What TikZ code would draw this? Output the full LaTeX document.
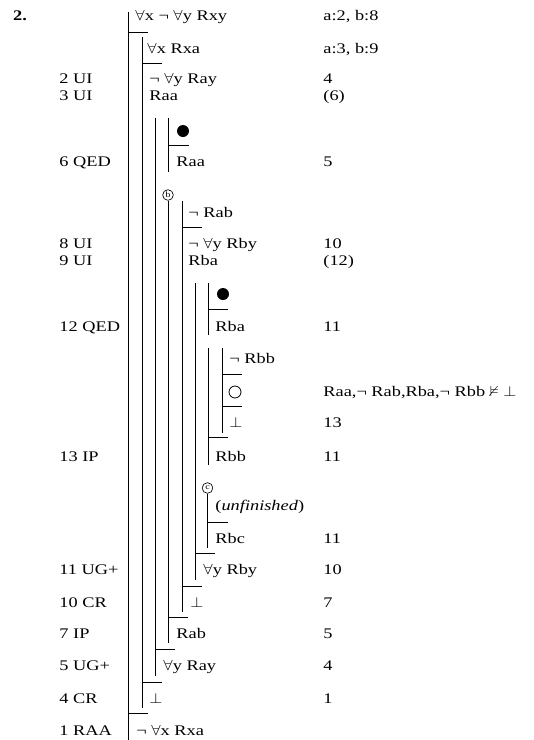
\documentclass[tikz,border=0pt]{standalone}
\usepackage{amsmath,amssymb}
\usepackage{fontspec}
\setmainfont{Liberation Serif}[FakeStretch=1.25]
\usepackage{tikz}

\newcommand{\fa}{\scalebox{1.15}[1]{$\forall$}}
\newcommand{\fls}{\scalebox{1.15}[1]{$\bot$}}

\tikzset{
  fml/.style={anchor=base west,inner sep=0pt},
  rul/.style={anchor=base west,inner sep=0pt},
  casebox/.style={circle,draw,line width=0.5pt,minimum size=8pt,inner sep=0pt,font=\fontsize{6}{6}\selectfont},
}

\begin{document}
\begin{tikzpicture}[x=0.75pt,y=-0.75pt,line width=0.7pt,
    every node/.append style={font=\fontsize{11}{13}\selectfont}]
                \useasboundingbox (0,0) rectangle (534,740);

                \node[fml] (num) at (12.7,20) {\textbf{2.}};

                % Linien
                \foreach \x/\ya/\yb in {128/12/740, 142/37/708, 155/118/676, 168.5/118/172,
                    182/201/612, 195/283/580, 208/283/335, 208/348/465, 222/348/433}
                    \draw (\x,\ya) -- (\x,\yb);
                \foreach \x/\y in {128/32, 142/63, 168.5/145, 182/227, 208/309, 222/374, 222/406,
                    208/437, 208/522, 195/553, 182/586, 168/617, 155/649, 142/682, 128/713}
                    \draw (\x,\y) -- ++(20,0);

                % Fall b, Fall c
                \node[casebox] (cb) at (168,195) {b};
                \draw (cb.south) -- (168,643);
                \node[casebox] (cc) at (207.5,488) {c};
                \draw (cc.south) -- (207.5,548);

                \node[circle,fill,minimum size=9pt,inner sep=0pt] (dota) at (183,131) {}; %Raa
                \node[circle,fill,minimum size=9pt,inner sep=0pt] (dotb) at (223,294) {}; %Rba
                \node[circle,draw,line width=0.6pt,minimum size=9pt,inner sep=0pt] (open) at (235,392) {};

                % Formeln
                \node[fml] (f1) at (135,20) {\fa x ¬ \fa y Rxy};
                \node[fml] (f2) at (147,53) {\fa x Rxa};
                \node[fml] (f3) at (149,83) {¬ \fa y Ray};
                \node[fml] (f4) at (149,100) {Raa};
                \node[fml] (f5) at (176,166) {Raa};
                \node[fml] (f6) at (188,217) {¬ Rab};
                \node[fml] (f7) at (188,248) {¬ \fa y Rby};
                \node[fml] (f8) at (188,265) {Rba};
                \node[fml] (f9) at (215,331) {Rba};
                \node[fml] (f10) at (229,363) {¬ Rbb};
                \node[fml] (f11) at (229,427) {\fls};
                \node[fml] (f12) at (215,461) {Rbb};
                \node[fml] (f13) at (215,510) {(\textit{unfinished})};
                \node[fml] (f14) at (215,543) {Rbc};
                \node[fml] (f15) at (203,574) {\fa y Rby};
                \node[fml] (f16) at (190,607) {\fls};
                \node[fml] (f17) at (176,638) {Rab};
                \node[fml] (f18) at (163,670) {\fa y Ray};
                \node[fml] (f19) at (149,703) {\fls};
                \node[fml] (f20) at (136,735) {¬ \fa x Rxa};

                % Regeln links
                \foreach \y/\t in {83/2 UI, 100/3 UI, 166/6 QED, 248/8 UI, 265/9 UI, 331/12 QED,
                    461/13 IP, 574/11 UG+, 607/10 CR, 638/7 IP, 670/5 UG+, 703/4 CR, 735/1 RAA}
                    \node[rul] (r\y) at (59,\y) {\t};

                % Verweise rechts
                \node[rul] (ref1) at (323,20) {a:2, b:8};
                \node[rul] (ref2) at (323,53) {a:3, b:9};
                \foreach \y/\t in {83/4, 100/(6), 166/5, 248/10, 265/(12), 331/11, 427/13,
                    461/11, 543/11, 574/10, 607/7, 638/5, 670/4, 703/1}
                    \node[rul] (ref\y) at (323,\y) {\t};
                \node[rul] (open-ref) at (323,396) {Raa,¬ Rab,Rba,¬ Rbb $\nvDash$ \fls};

            \end{tikzpicture}
\end{document}
